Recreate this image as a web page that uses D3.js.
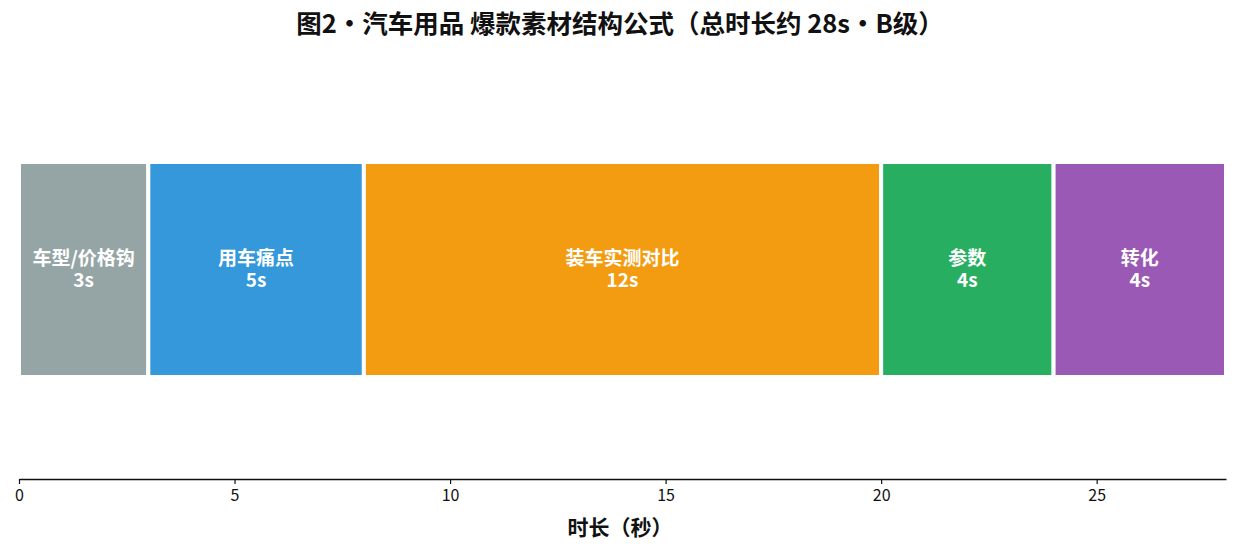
<!DOCTYPE html>
<html>
<head>
<meta charset="utf-8">
<script src="https://cdn.jsdelivr.net/npm/d3@7"></script>
<style>
  body { margin: 0; background: #fff; }
  svg text { font-family: "Noto Sans CJK SC", "Noto Sans", sans-serif; }
</style>
</head>
<body>
<div class="container"></div>
<script>
const segNames = ['车型/价格钩', '用车痛点', '装车实测对比', '参数', '转化'];
const segSeconds = [3, 5, 12, 4, 4];
const segColors = ['#95a5a6', '#3498db', '#f39c12', '#27ae60', '#9b59b6'];
const xTicks = [0, 5, 10, 15, 20, 25];
const totalSeconds = 28;

const width = 1240;
const height = 551;
const left = 19, right = 1226;
const barTop = 162, barBottom = 377;
const axisY = 479;

// cumulative start of each segment
const starts = [];
segSeconds.reduce((acc, v) => { starts.push(acc); return acc + v; }, 0);
const segs = segNames.map((n, i) => ({ name: n, start: starts[i], len: segSeconds[i], color: segColors[i] }));

const x = d3.scaleLinear().domain([0, totalSeconds]).range([left, right]);

const svg = d3.select('.container')
  .append('svg')
  .attr('width', width)
  .attr('height', height);

svg.append('text')
  .attr('x', 620)
  .attr('y', 33)
  .attr('text-anchor', 'middle')
  .attr('font-size', 25.5)
  .attr('font-weight', 'bold')
  .attr('fill', '#111')
  .text('图2・汽车用品 爆款素材结构公式（总时长约 28s・B级）');

svg.selectAll('rect.seg')
  .data(segs)
  .enter()
  .append('rect')
  .attr('class', 'seg')
  .attr('x', d => x(d.start))
  .attr('y', barTop)
  .attr('width', d => x(d.start + d.len) - x(d.start))
  .attr('height', barBottom - barTop)
  .attr('fill', d => d.color)
  .attr('stroke', '#fff')
  .attr('stroke-width', 4);

const labels = svg.selectAll('text.seg')
  .data(segs)
  .enter()
  .append('text')
  .attr('class', 'seg')
  .attr('text-anchor', 'middle')
  .attr('fill', '#fff')
  .attr('font-weight', 'bold')
  .attr('font-size', 19);
labels.append('tspan')
  .attr('x', d => x(d.start + d.len / 2))
  .attr('y', 265)
  .text(d => d.name);
labels.append('tspan')
  .attr('x', d => x(d.start + d.len / 2))
  .attr('y', 287)
  .text(d => d.len + 's');

const xAxis = d3.axisBottom(x).tickValues(xTicks).tickSizeInner(5).tickSizeOuter(0).tickPadding(6);
const gx = svg.append('g')
  .attr('transform', `translate(0, ${axisY})`)
  .call(xAxis);
gx.select('.domain').attr('stroke', '#111').attr('stroke-width', 1.3);
gx.selectAll('.tick line').attr('stroke', '#111').attr('stroke-width', 1.2);
gx.selectAll('.tick text')
  .attr('font-size', 16)
  .attr('fill', '#111')
  .style('font-family', '"Noto Sans CJK SC", sans-serif');

svg.append('text')
  .attr('x', 620)
  .attr('y', 535)
  .attr('text-anchor', 'middle')
  .attr('font-size', 21)
  .attr('font-weight', 'bold')
  .attr('fill', '#111')
  .text('时长（秒）');
</script>
</body>
</html>
